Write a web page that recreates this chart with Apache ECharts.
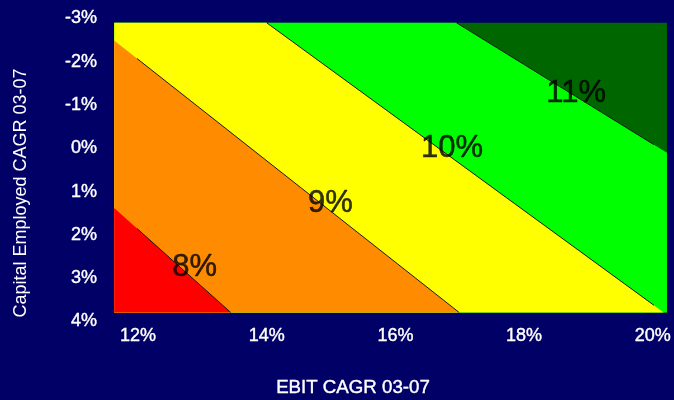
<!DOCTYPE html>
<html>
<head>
<meta charset="utf-8">
<script src="https://cdn.jsdelivr.net/npm/echarts@6/dist/echarts.min.js"></script>
<style>
  html, body { margin: 0; padding: 0; background: #000066; }
  #chart { width: 674px; height: 400px; }
</style>
</head>
<body>
<div id="chart"></div>
<script>
// EBIT CAGR 03-07 (%), horizontal axis ticks
const xTicks = [12, 14, 16, 18, 20];
// Capital Employed CAGR 03-07 (%), vertical axis ticks (top to bottom)
const yTicks = [-3, -2, -1, 0, 1, 2, 3, 4];
// extent of the contour surface in axis units
const xRange = [11.63, 20.22];
const yRange = [-2.9, 3.79];
// contour levels and the straight iso-lines separating the bands
const levels = ['8%', '9%', '10%', '11%'];
const contourStart = [[11.63, 1.38], [11.63, -2.49], [14.0, -2.9], [16.95, -2.9]];
const contourEnd = [[13.44, 3.79], [16.99, 3.79], [20.17, 3.79], [20.22, 0.10]];
// where each level label sits on its iso-line
const labelAt = [[12.88, 2.72], [14.99, 1.26], [16.88, -0.03], [18.81, -1.30]];

const bandColors = ['#ff0000', '#ff8c00', '#ffff00', '#00ff00', '#006600'];
const drawOrder = [4, 3, 2, 1, 0];

// polygon of the surface lying below/left of the iso-line a -> b
function regionBelow(a, b) {
  const [x0, x1] = xRange, [y0, y1] = yRange;
  const corners = [[x1, y1], [x0, y1], [x0, y0]];
  const side = p => (b[0] - a[0]) * (p[1] - a[1]) - (b[1] - a[1]) * (p[0] - a[0]);
  const ref = side([x0, y1]);
  return [a, b].concat(corners.filter(c => side(c) * ref > 0));
}

function fullRect() {
  const [x0, x1] = xRange, [y0, y1] = yRange;
  return [[x0, y0], [x1, y0], [x1, y1], [x0, y1]];
}

const font = '"Liberation Sans", Arial, sans-serif';

const chart = echarts.init(document.getElementById('chart'), null, { renderer: 'canvas' });

const tickLabel = {
  formatter: '{value}%',
  color: '#ffffff',
  fontSize: 18,
  fontFamily: font,
  textBorderColor: '#ffffff',
  textBorderWidth: 0.4,
  showMinLabel: true,
  showMaxLabel: true
};

chart.setOption({
  backgroundColor: '#000066',
  animation: false,
  grid: { left: 138, right: 20, top: 18.5, bottom: 78.5, containLabel: false },
  xAxis: {
    type: 'value',
    min: xTicks[0],
    max: xTicks[xTicks.length - 1],
    interval: xTicks[1] - xTicks[0],
    axisLine: { show: false },
    axisTick: { show: false },
    splitLine: { show: false },
    axisLabel: Object.assign({ margin: 6 }, tickLabel)
  },
  yAxis: {
    type: 'value',
    inverse: true,
    min: yTicks[0],
    max: yTicks[yTicks.length - 1],
    interval: yTicks[1] - yTicks[0],
    axisLine: { show: false },
    axisTick: { show: false },
    splitLine: { show: false },
    axisLabel: Object.assign({ margin: 41 }, tickLabel)
  },
  series: [
    {
      type: 'custom',
      clip: false,
      silent: true,
      z: 1,
      data: drawOrder.map(k => [xTicks[0], yTicks[0], k]),
      renderItem: function (params, api) {
        const k = drawOrder[params.dataIndex];
        const poly = k === 4 ? fullRect() : regionBelow(contourStart[k], contourEnd[k]);
        return {
          type: 'polygon',
          shape: { points: poly.map(p => api.coord(p)) },
          style: { fill: bandColors[k], stroke: null }
        };
      }
    },
    ...levels.map((lv, k) => ({
      type: 'line',
      name: lv,
      clip: false,
      silent: true,
      showSymbol: false,
      symbol: 'none',
      z: 3,
      lineStyle: { color: '#1a1a1a', width: 1 },
      data: [contourStart[k], contourEnd[k]]
    })),
    {
      type: 'scatter',
      clip: false,
      silent: true,
      symbolSize: 0,
      z: 4,
      data: labelAt,
      label: {
        show: true,
        position: 'inside',
        offset: [0, 1],
        formatter: p => levels[p.dataIndex],
        color: '#000000',
        fontSize: 31,
        fontFamily: font,
        textBorderColor: '#000000',
        textBorderWidth: 0.5
      }
    }
  ],
  graphic: [
    {
      type: 'text',
      x: 353,
      y: 388,
      style: {
        text: 'EBIT CAGR 03-07',
        fill: '#ffffff',
        stroke: '#ffffff',
        lineWidth: 0.4,
        font: '18.7px ' + font,
        textAlign: 'center',
        textVerticalAlign: 'middle'
      }
    },
    {
      type: 'text',
      x: 21,
      y: 193,
      rotation: Math.PI / 2,
      style: {
        text: 'Capital Employed CAGR 03-07',
        fill: '#ffffff',
        font: '18px ' + font,
        textAlign: 'center',
        textVerticalAlign: 'middle'
      }
    }
  ]
});
</script>
</body>
</html>
